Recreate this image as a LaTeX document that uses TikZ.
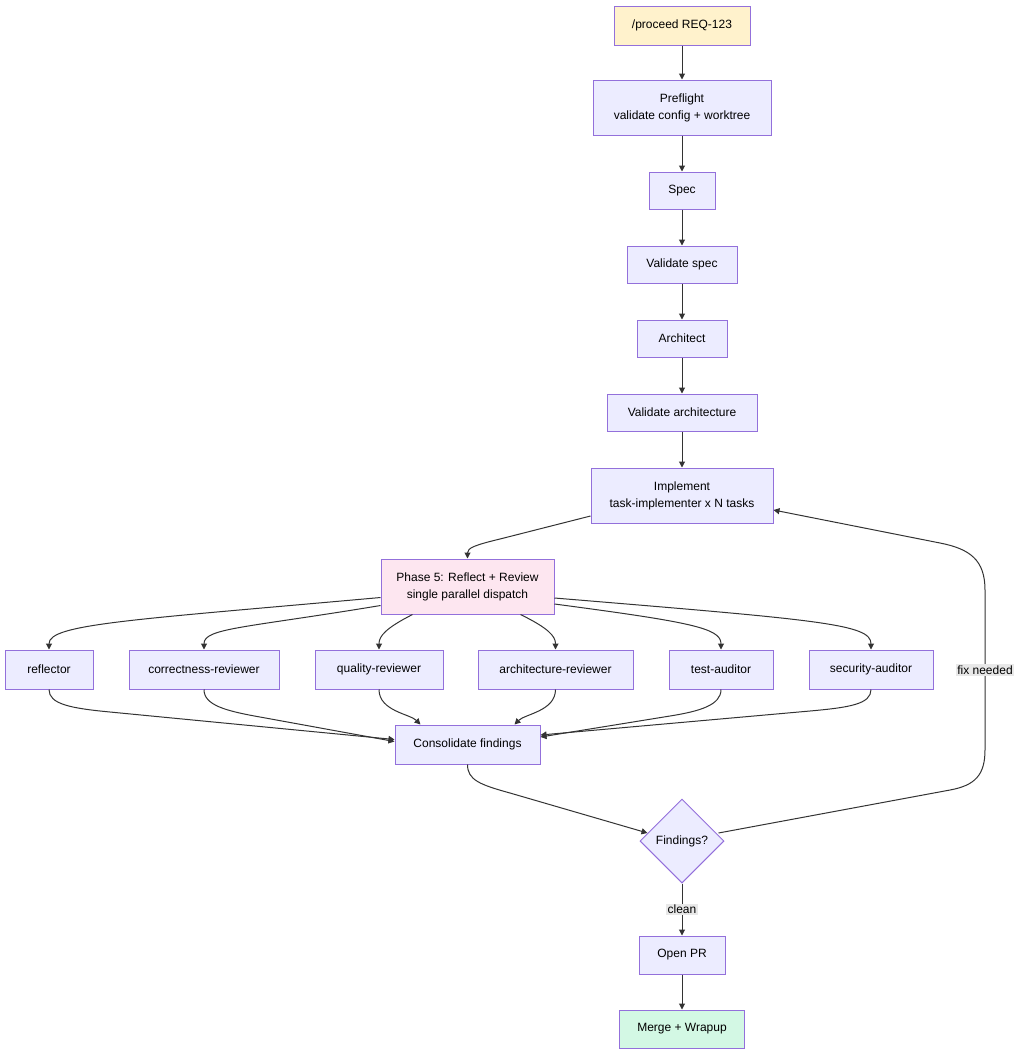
\documentclass[tikz,border=0pt]{standalone}
\usepackage{fontspec}
\setmainfont{Liberation Sans}
\usetikzlibrary{shapes.geometric,arrows.meta,calc}
\definecolor{nfill}{HTML}{ECECFF}
\definecolor{nstroke}{HTML}{9370DB}
\definecolor{yfill}{HTML}{FFF2CC}
\definecolor{pfill}{HTML}{FDE6F0}
\definecolor{gfill}{HTML}{D3F8E4}
\definecolor{lbl}{HTML}{E8E8E8}
\definecolor{edge}{HTML}{333333}
\tikzset{
  box/.style={draw=nstroke,fill=nfill,line width=1pt,inner sep=0pt,align=center,
    font=\fontsize{12}{17}\selectfont,text=black},
  dia/.style={diamond,draw=nstroke,fill=nfill,line width=1pt,inner sep=0pt,
    minimum width=84pt,minimum height=84pt,font=\fontsize{12}{17}\selectfont},
  arr/.style={draw=edge,line width=1pt,-{Triangle[length=6pt,width=6pt]}},
  elabel/.style={fill=lbl,inner sep=1.5pt,font=\fontsize{12}{14}\selectfont},
}
\begin{document}
\begin{tikzpicture}[x=1pt,y=-1pt]
\useasboundingbox (0,0) rectangle (1024,1061);
\fill[white] (0,0) rectangle (1024,1061);
% main chain
\node[box,fill=yfill,minimum width=136pt,minimum height=39pt] (start) at (682,25.5) {/proceed REQ-123};
\node[box,minimum width=178pt,minimum height=55pt] (pre) at (682,107.5) {Preflight\\validate config + worktree};
\node[box,minimum width=66pt,minimum height=37pt] (spec) at (682,190.5) {Spec};
\node[box,minimum width=110pt,minimum height=37pt] (vspec) at (682,264.5) {Validate spec};
\node[box,minimum width=90pt,minimum height=37pt] (arch) at (682,338.5) {Architect};
\node[box,minimum width=150pt,minimum height=37pt] (varch) at (682,412.5) {Validate architecture};
\node[box,minimum width=182pt,minimum height=55pt] (impl) at (682,495.5) {Implement\\task-implementer x N tasks};
\node[box,fill=pfill,minimum width=173pt,minimum height=55pt] (p5) at (467.5,586.5) {Phase 5: Reflect + Review\\single parallel dispatch};
% reviewers
\node[box,minimum width=88pt,minimum height=39pt] (refl) at (49,669.5) {reflector};
\node[box,minimum width=150pt,minimum height=39pt] (corr) at (204,669.5) {correctness-reviewer};
\node[box,minimum width=128pt,minimum height=39pt] (qual) at (379,669.5) {quality-reviewer};
\node[box,minimum width=155pt,minimum height=39pt] (archr) at (555.5,669.5) {architecture-reviewer};
\node[box,minimum width=104pt,minimum height=39pt] (test) at (721,669.5) {test-auditor};
\node[box,minimum width=124pt,minimum height=39pt] (sec) at (871,669.5) {security-auditor};
\node[box,minimum width=145pt,minimum height=39pt] (cons) at (467.5,744.5) {Consolidate findings};
\node[dia] (find) at (682,841) {Findings?};
\node[box,minimum width=86pt,minimum height=38pt] (pr) at (682,955) {Open PR};
\node[box,fill=gfill,minimum width=125pt,minimum height=38pt] (merge) at (682,1029) {Merge + Wrapup};
% straight edges
\draw[arr] (start) -- (pre);
\draw[arr] (pre) -- (spec);
\draw[arr] (spec) -- (vspec);
\draw[arr] (vspec) -- (arch);
\draw[arr] (arch) -- (varch);
\draw[arr] (varch) -- (impl);
\draw[arr] (pr) -- (merge);
\draw[arr] (find.south) -- node[elabel] (lclean) {clean} (pr.north);
% implement -> phase5
\draw[arr] ([yshift=-20.5pt]impl.west) -- (500,539) .. controls (475,545) and (467.5,548) .. (p5.north);
% phase5 -> reviewers
\draw[arr] ([yshift=-11pt]p5.west) .. controls (130,620) and (49,624) .. (refl.north);
\draw[arr] ([yshift=-19pt]p5.west) .. controls (245,628) and (204,628) .. (corr.north);
\draw[arr] ([xshift=-55pt]p5.south) .. controls (386,628) and (379,636) .. (qual.north);
\draw[arr] ([xshift=53pt]p5.south) .. controls (548,628) and (555.5,636) .. (archr.north);
\draw[arr] ([yshift=-17.5pt]p5.east) .. controls (690,622) and (721,628) .. (test.north);
\draw[arr] ([yshift=-11.5pt]p5.east) .. controls (820,620) and (871,624) .. (sec.north);
% reviewers -> consolidate
\draw[arr] (refl.south) .. controls (49,704) and (70,708.2) .. (110,712) -- ([yshift=5pt]cons.west);
\draw[arr] (corr.south) .. controls (204,705) and (225,710.8) .. (260,717) -- ([yshift=3pt]cons.west);
\draw[arr] (qual.south) .. controls (379,711) and (410,714) .. ([xshift=-47pt]cons.north);
\draw[arr] (archr.south) .. controls (555.5,711) and (525,714) .. ([xshift=47pt]cons.north);
\draw[arr] (test.south) .. controls (721,705) and (700,711.2) .. (670,716) -- ([yshift=7.5pt]cons.east);
\draw[arr] (sec.south) .. controls (871,704) and (850,707.4) .. (810,711) -- ([yshift=9.5pt]cons.east);
% consolidate -> findings
\draw[arr] (cons.south) .. controls (467.5,780) and (480,784.7) .. (510,793) -- ([xshift=8pt,yshift=8pt]find.west);
% findings -> implement (fix needed)
\draw[arr] ([xshift=-6pt,yshift=8pt]find.east) -- (950,790) .. controls (975,785.4) and (985,775) .. (985,750)
  -- node[elabel,pos=0.5] (lfix) {fix needed} (985,590)
  .. controls (985,560) and (970,548.9) .. (940,543) -- ([yshift=-14.5pt]impl.east);
\end{tikzpicture}
\end{document}
